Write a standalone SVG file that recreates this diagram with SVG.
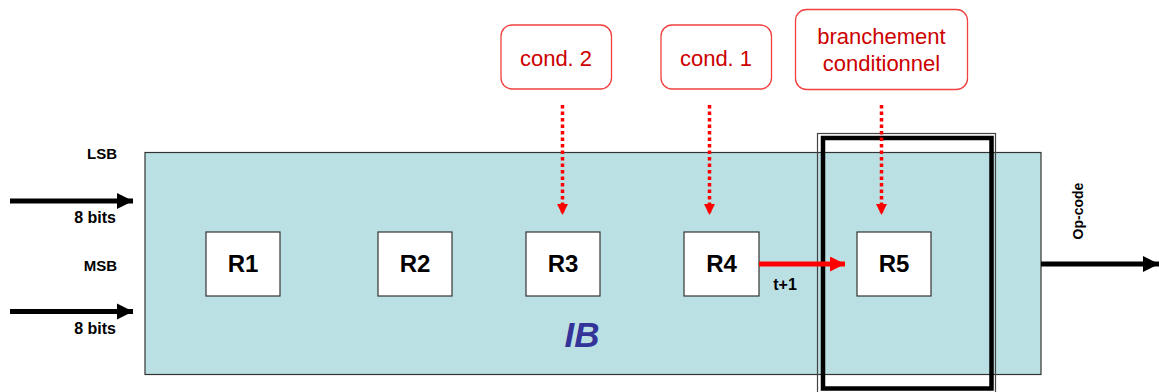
<svg xmlns="http://www.w3.org/2000/svg" width="1159" height="392" viewBox="0 0 1159 392">
<style>
.lbl{font-family:"Liberation Sans",Arial,sans-serif;font-weight:bold;fill:#000}
.reg{fill:#fff;stroke:#333;stroke-width:1.2}
.rt{font-family:"Liberation Sans",Arial,sans-serif;font-weight:bold;font-size:24px;fill:#000;text-anchor:middle}
.call{fill:#fff;stroke:#F04040;stroke-width:1.3}
.ct{font-family:"Liberation Sans",Arial,sans-serif;font-size:22px;fill:#CC0000;text-anchor:middle}
.dot{stroke:#FF0000;stroke-width:3.5;stroke-dasharray:3.5 3;fill:none}
.blk{stroke:#000;stroke-width:5;fill:none}
</style>
<defs>
<marker id="ah" viewBox="0 0 10 10" refX="10" refY="5" markerWidth="3.2" markerHeight="3.4" orient="auto" markerUnits="strokeWidth"><path d="M0,0L10,5L0,10z" fill="#000"/></marker>
<marker id="ahr" viewBox="0 0 10 10" refX="10" refY="5" markerWidth="3.2" markerHeight="3" orient="auto" markerUnits="strokeWidth"><path d="M0,0L10,5L0,10z" fill="#FF0000"/></marker>
<marker id="ahd" viewBox="0 0 10 10" refX="10" refY="5" markerWidth="3.2" markerHeight="3.4" orient="auto" markerUnits="strokeWidth"><path d="M0,0L10,5L0,10z" fill="#FF0000"/></marker>
</defs>
<g id="ib">
<rect x="145" y="152.5" width="896" height="222" fill="#BBE0E3" stroke="#333" stroke-width="1.2"/>
<text x="582" y="347" font-family="'Liberation Sans',Arial,sans-serif" font-weight="bold" font-style="italic" font-size="35" fill="#333399" text-anchor="middle">IB</text>
</g>
<g id="r1"><rect class="reg" x="206" y="232" width="74" height="64"/><text class="rt" x="243" y="272">R1</text></g>
<g id="r2"><rect class="reg" x="378" y="232" width="74" height="64"/><text class="rt" x="415" y="272">R2</text></g>
<g id="r3"><rect class="reg" x="526" y="232" width="74" height="64"/><text class="rt" x="563" y="272">R3</text></g>
<g id="r4"><rect class="reg" x="684" y="232" width="75" height="64"/><text class="rt" x="721.5" y="272">R4</text></g>
<g id="r5"><rect class="reg" x="857" y="232" width="74" height="64"/><text class="rt" x="894" y="272">R5</text></g>
<g id="highlight">
<rect x="817.5" y="133.5" width="178" height="270" fill="none" stroke="#444" stroke-width="1.2"/>
<rect x="823" y="138" width="168.5" height="250.5" fill="none" stroke="#000" stroke-width="4.5"/>
</g>
<g id="cond2"><rect class="call" x="501" y="25" width="110.5" height="64" rx="11"/><text class="ct" x="556" y="66">cond. 2</text></g>
<g id="cond1"><rect class="call" x="661" y="25" width="110.5" height="64" rx="11"/><text class="ct" x="716" y="66">cond. 1</text></g>
<g id="branch"><rect class="call" x="795.5" y="9.5" width="172" height="80" rx="11"/><text class="ct" x="881.5" y="44">branchement</text><text class="ct" x="881.5" y="71">conditionnel</text></g>
<g id="labels">
<text class="lbl" x="117" y="159" font-size="15" text-anchor="end">LSB</text>
<text class="lbl" x="116" y="223" font-size="16" text-anchor="end">8 bits</text>
<text class="lbl" x="117" y="271" font-size="15" text-anchor="end">MSB</text>
<text class="lbl" x="116" y="334" font-size="16" text-anchor="end">8 bits</text>
<text class="lbl" x="785" y="290" font-size="16" text-anchor="middle">t+1</text>
<text class="lbl" x="1083" y="211" font-size="14" text-anchor="middle" transform="rotate(-90 1083 211)">Op-code</text>
</g>
<g id="connectors">
<line class="blk" x1="10" y1="201" x2="133" y2="201" marker-end="url(#ah)"/>
<line class="blk" x1="10" y1="311.5" x2="133" y2="311.5" marker-end="url(#ah)"/>
<line class="blk" x1="1041" y1="264" x2="1159" y2="264" marker-end="url(#ah)"/>
<line x1="759" y1="264" x2="845" y2="264" stroke="#FF0000" stroke-width="5" marker-end="url(#ahr)"/>
<line class="dot" x1="562.5" y1="105" x2="562.5" y2="215" marker-end="url(#ahd)"/>
<line class="dot" x1="709.5" y1="105" x2="709.5" y2="215" marker-end="url(#ahd)"/>
<line class="dot" x1="881.5" y1="105" x2="881.5" y2="215" marker-end="url(#ahd)"/>
</g>
</svg>
